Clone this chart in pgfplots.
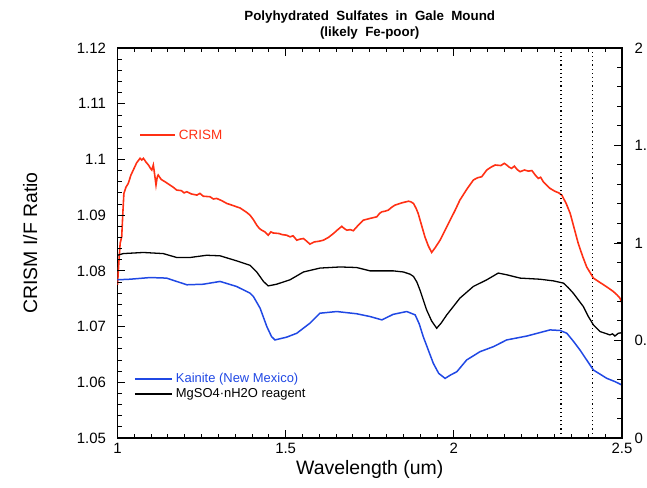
\documentclass[border=0pt]{standalone}
\usepackage{pgfplots}
\pgfplotsset{compat=1.18}
\usepackage{fontspec}
\setmainfont{Liberation Sans}

\definecolor{crismred}{RGB}{255,48,20}
\definecolor{kainblue}{RGB}{32,72,228}

\begin{document}
\begin{tikzpicture}

% left axis: reflectance ratio
\begin{axis}[
    at={(0,0)}, anchor=south west,
    scale only axis,
    width=504.5bp, height=390bp,
    xmin=1, xmax=2.5, ymin=1.05, ymax=1.12,
    xtick={1,1.5,2,2.5}, xticklabels={1,1.5,2,2.5},
    ytick={1.05,1.06,...,1.12},
    yticklabels={1.05,1.06,1.07,1.08,1.09,1.1,1.11,1.12},
    xtick pos=both, ytick pos=left,
    tick align=inside,
    major tick length=8pt,
    major tick style={draw=black, line width=1pt},
    axis line style={line width=1.1pt},
    /pgf/number format/assume math mode=true,
    tick label style={font=\fontsize{15}{17}\selectfont},
    yticklabel style={xshift=-8pt},
    xticklabel style={yshift=-2pt},
    xlabel={Wavelength (um)},
    ylabel={CRISM I/F Ratio},
    label style={font=\fontsize{19.5}{22}\selectfont},
    xlabel style={at={(axis description cs:0.5,-0.080)}, anchor=center},
    ylabel style={at={(axis description cs:-0.173,0.5)}, anchor=center},
    title={\bfseries Polyhydrated\ \ Sulfates\ \ in\ \ Gale\ \ Mound\\\bfseries (likely\ \ Fe-poor)},
    title style={font=\fontsize{13.4}{16}\selectfont, align=center, yshift=-1pt},
]
% CRISM spectrum
\addplot[crismred, line width=1.6pt] coordinates {
(1.000,1.0775) (1.004,1.0815) (1.008,1.0850) (1.0125,1.0861) (1.016,1.0905)
(1.019,1.0939) (1.025,1.0950) (1.032,1.0957) (1.040,1.0972) (1.047,1.0981)
(1.057,1.0994) (1.067,1.1002) (1.072,1.0999) (1.077,1.1002) (1.085,1.0995)
(1.092,1.0990) (1.098,1.0984) (1.102,1.0981) (1.1065,1.0990) (1.110,1.0975)
(1.1145,1.0954) (1.118,1.0968) (1.121,1.0972) (1.130,1.0964) (1.141,1.0960)
(1.156,1.0954) (1.166,1.0950) (1.176,1.0945) (1.190,1.0944) (1.198,1.0940)
(1.206,1.0942) (1.220,1.0938) (1.236,1.0936) (1.245,1.0939) (1.255,1.0934)
(1.275,1.0933) (1.285,1.0929) (1.295,1.0930) (1.310,1.0926) (1.325,1.0921)
(1.340,1.0918) (1.354,1.0915) (1.364,1.0913) (1.374,1.0909) (1.384,1.0905)
(1.394,1.0900) (1.404,1.0892) (1.414,1.0882) (1.422,1.0876) (1.429,1.0873)
(1.438,1.0870) (1.448,1.0864) (1.456,1.0870) (1.463,1.0868) (1.480,1.0867)
(1.490,1.0865) (1.503,1.0864) (1.513,1.0861) (1.522,1.0863) (1.533,1.0855)
(1.543,1.0857) (1.553,1.0858) (1.563,1.0853) (1.572,1.0848) (1.585,1.0852)
(1.598,1.0853) (1.612,1.0855) (1.627,1.0860) (1.642,1.0867) (1.655,1.0874)
(1.667,1.0880) (1.674,1.0876) (1.682,1.0873) (1.692,1.0874) (1.701,1.0872)
(1.716,1.0882) (1.731,1.0891) (1.750,1.0894) (1.771,1.0897) (1.779,1.0903)
(1.786,1.0906) (1.795,1.0907) (1.805,1.0909) (1.815,1.0914) (1.825,1.0918)
(1.845,1.0922) (1.865,1.0925) (1.872,1.0924) (1.880,1.0921) (1.888,1.0912)
(1.894,1.0903) (1.904,1.0882) (1.914,1.0861) (1.924,1.0845) (1.934,1.0833)
(1.945,1.0842) (1.959,1.0855) (1.974,1.0873) (1.989,1.0891) (2.004,1.0909)
(2.018,1.0927) (2.038,1.0946) (2.058,1.0963) (2.070,1.0967) (2.083,1.0969)
(2.098,1.0981) (2.110,1.0986) (2.123,1.0990) (2.140,1.0989) (2.150,1.0993)
(2.157,1.0990) (2.165,1.0986) (2.172,1.0984) (2.180,1.0988) (2.188,1.0982)
(2.197,1.0978) (2.210,1.0981) (2.222,1.0979) (2.232,1.0980) (2.242,1.0972)
(2.251,1.0966) (2.258,1.0968) (2.266,1.0960) (2.276,1.0954) (2.286,1.0948)
(2.300,1.0943) (2.312,1.0940) (2.321,1.0936) (2.334,1.0921) (2.346,1.0903)
(2.358,1.0876) (2.370,1.0849) (2.383,1.0826) (2.395,1.0807) (2.405,1.0797)
(2.415,1.0787) (2.430,1.0781) (2.445,1.0775) (2.460,1.0769) (2.474,1.0763)
(2.485,1.0757) (2.494,1.0751) (2.500,1.0742)
};
% MgSO4.nH2O reagent
\addplot[black, line width=1.3pt] coordinates {
(1.000,1.0828) (1.017,1.0831) (1.077,1.0833) (1.136,1.0831) (1.176,1.0824)
(1.216,1.0824) (1.265,1.0828) (1.305,1.0827) (1.354,1.0818) (1.394,1.0810)
(1.414,1.0798) (1.434,1.0781) (1.448,1.0773) (1.473,1.0776) (1.513,1.0784)
(1.553,1.0798) (1.602,1.0805) (1.662,1.0807) (1.711,1.0806) (1.751,1.0800)
(1.820,1.0800) (1.850,1.0798) (1.870,1.0794) (1.880,1.0790) (1.890,1.0780)
(1.899,1.0766) (1.909,1.0748) (1.919,1.0730) (1.934,1.0710) (1.949,1.0697)
(1.962,1.0706) (1.979,1.0721) (2.018,1.0751) (2.058,1.0772) (2.098,1.0784)
(2.132,1.0796) (2.157,1.0793) (2.197,1.0787) (2.256,1.0785) (2.296,1.0782)
(2.326,1.0778) (2.340,1.0770) (2.355,1.0760) (2.370,1.0748) (2.385,1.0736)
(2.400,1.0718) (2.415,1.0703) (2.435,1.0691) (2.450,1.0688) (2.464,1.0685)
(2.472,1.0687) (2.479,1.0683) (2.489,1.0688) (2.500,1.0689)
};
% Kainite (New Mexico)
\addplot[kainblue, line width=1.5pt] coordinates {
(1.000,1.0784) (1.037,1.0785) (1.097,1.0788) (1.146,1.0787) (1.206,1.0775)
(1.255,1.0776) (1.305,1.0781) (1.354,1.0772) (1.394,1.0760) (1.404,1.0754)
(1.424,1.0733) (1.444,1.0700) (1.458,1.0682) (1.468,1.0676) (1.503,1.0681)
(1.533,1.0688) (1.572,1.0706) (1.602,1.0724) (1.652,1.0727) (1.711,1.0723)
(1.751,1.0718) (1.786,1.0712) (1.820,1.0722) (1.860,1.0727) (1.885,1.0721)
(1.897,1.0705) (1.909,1.0682) (1.924,1.0658) (1.939,1.0634) (1.955,1.0616)
(1.974,1.0607) (1.990,1.0613) (2.009,1.0619) (2.038,1.0640) (2.078,1.0655)
(2.118,1.0664) (2.157,1.0676) (2.217,1.0683) (2.286,1.0694) (2.316,1.0693)
(2.336,1.0688) (2.355,1.0674) (2.375,1.0658) (2.395,1.0640) (2.415,1.0622)
(2.455,1.0607) (2.480,1.0601) (2.500,1.0595)
};
% band position markers
\addplot[black, line width=1.4pt, dash pattern=on 1.2pt off 3pt] coordinates {(2.319,1.05) (2.319,1.12)};
\addplot[black, line width=1.4pt, dash pattern=on 1.2pt off 3pt] coordinates {(2.413,1.05) (2.413,1.12)};

% minor and major tick marks on the frame
\pgfplotsinvokeforeach{1,1.05,...,2.5}{
  \draw[black, line width=1pt] (axis cs:#1,1.05) -- ([yshift=4.5pt]axis cs:#1,1.05);
  \draw[black, line width=1pt] (axis cs:#1,1.12) -- ([yshift=-4.5pt]axis cs:#1,1.12);
}
\pgfplotsinvokeforeach{1,1.5,2,2.5}{
  \draw[black, line width=1pt] (axis cs:#1,1.05) -- ([yshift=8pt]axis cs:#1,1.05);
  \draw[black, line width=1pt] (axis cs:#1,1.12) -- ([yshift=-8pt]axis cs:#1,1.12);
}
\pgfplotsinvokeforeach{1.05,1.052,...,1.1201}{
  \draw[black, line width=1pt] (axis cs:1,#1) -- ([xshift=4.5pt]axis cs:1,#1);
}
\pgfplotsinvokeforeach{1.05,1.06,...,1.1201}{
  \draw[black, line width=1pt] (axis cs:1,#1) -- ([xshift=8pt]axis cs:1,#1);
}

% in-plot legend
\draw[crismred, line width=1.3pt] (axis cs:1.067,1.1044) -- (axis cs:1.171,1.1044)
  node[right, font=\fontsize{13.5}{15}\selectfont] {CRISM};
\draw[kainblue, line width=1.3pt] (axis cs:1.052,1.0606) -- (axis cs:1.162,1.0606)
  node[right, font=\fontsize{13}{15}\selectfont] {Kainite (New Mexico)};
\draw[black, line width=1.3pt] (axis cs:1.052,1.0579) -- (axis cs:1.162,1.0579)
  node[right, font=\fontsize{13}{15}\selectfont] {MgSO4·nH2O reagent};
\end{axis}

% right axis
\begin{axis}[
    at={(0,0)}, anchor=south west,
    scale only axis,
    width=504.5bp, height=390bp,
    xmin=1, xmax=2.5, ymin=0, ymax=2,
    hide x axis,
    axis y line*=right,
    axis line style={line width=1.1pt, -},
    ytick={0,0.5,1,1.5,2},
    yticklabels={0,0.5,1,1.5,2},
    tick align=inside,
    major tick length=8pt,
    major tick style={draw=black, line width=1pt},
    /pgf/number format/assume math mode=true,
    tick label style={font=\fontsize{15}{17}\selectfont},
    yticklabel style={xshift=9pt},
]
\pgfplotsinvokeforeach{0,0.1,...,2.01}{
  \draw[black, line width=1pt] (axis cs:2.5,#1) -- ([xshift=-5pt]axis cs:2.5,#1);
}
\pgfplotsinvokeforeach{0,0.5,...,2.01}{
  \draw[black, line width=1pt] (axis cs:2.5,#1) -- ([xshift=-8pt]axis cs:2.5,#1);
}
\end{axis}

% crop the page to the reference frame
\pgfresetboundingbox
\path (-117.5bp,-50bp) rectangle (529.5bp,438bp);
\end{tikzpicture}
\end{document}
